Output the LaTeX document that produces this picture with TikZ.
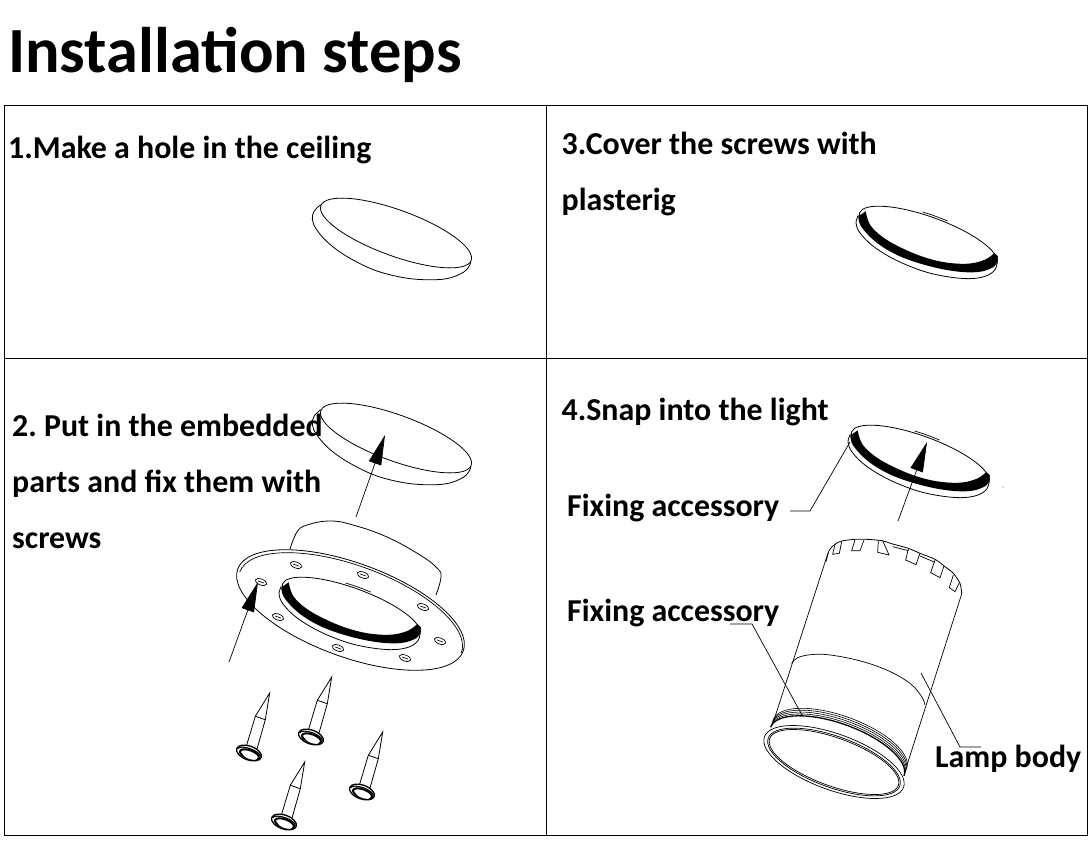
\documentclass[tikz,border=0pt]{standalone}
\usepackage{fontspec}
\setmainfont{Carlito}
\usetikzlibrary{arrows.meta}

\begin{document}
\begin{tikzpicture}[x=1pt,y=-1pt,
  inkline/.style={line width=0.8pt, black},
  panelline/.style={line width=0.8pt, black},
  leader/.style={line width=0.7pt, black},
  callout/.style={line width=0.7pt, black, -{Triangle[length=30pt,width=13pt]}},
  titletext/.style={anchor=north west, inner sep=0pt, font=\fontsize{64.4}{64}\selectfont\bfseries},
  steptext/.style={anchor=north west, inner sep=0pt, align=left, font=\fontsize{31.9}{56}\selectfont\bfseries},
  capdisc/.pic={
    \begin{scope}[scale=0.3333,shift={(-288,-130)}]
      \draw[inkline,fill=white] plot[smooth,tension=.6] coordinates {(62,45) (42,65) (37,90) (50,120) (85,160) (140,200) (220,240) (300,262) (370,270) (440,267) (490,248) (510,225) (512,215)};
    \end{scope}
    \draw[inkline,fill=white,rotate=-20] (0,0) ellipse [x radius=80pt,y radius=23pt];
  },
  ringdisc/.pic={
    \begin{scope}[scale=0.3333,shift={(-249,-130)}]
      \draw[inkline,fill=white] plot[smooth,tension=.6] coordinates {(40,62) (33,85) (45,115) (85,155) (150,195) (230,228) (300,245) (370,252) (420,245) (450,225) (458,192)};
    \end{scope}
    \draw[inkline,fill=white,rotate=-20] (0,0) ellipse [x radius=73pt,y radius=21pt];
    \begin{scope}[scale=0.3333,shift={(-249,-130)}]
      \fill[black] plot[smooth,tension=.6] coordinates {(40,65) (48,95) (90,140) (150,178) (220,205) (300,225) (370,233) (420,228) (450,210) (459,185)}
        -- plot[smooth,tension=.6] coordinates {(448,175) (420,195) (370,207) (300,203) (230,185) (160,155) (110,125) (75,90) (62,50)} -- cycle;
    \end{scope}
    \draw[leader,rotate=-20] (101:73pt and 23pt) arc [start angle=101,end angle=80,x radius=73pt,y radius=23pt];
  },
  screwpin/.pic={
    \draw[inkline] (-2.7,-6.7) -- (6.3,-36.7) -- (20.7,-60) -- (16.3,-33.3) -- (8,-4);
    \draw[inkline] (6.3,-36.7) -- (16.3,-33.3);
    \draw[line width=1.3pt,fill=white,rotate=-20] (0,0) ellipse [x radius=13pt,y radius=7pt];
    \draw[line width=1.1pt,rotate=-20] (-12pt,0pt) arc [start angle=180,end angle=0,x radius=12pt,y radius=4.5pt];
    \draw[line width=2pt,fill=white,shift={(0.5,1.5)},rotate=-20] (0,0) ellipse [x radius=10pt,y radius=4.2pt];
    \fill[white,shift={(1,3)},rotate=-20] (0,0) ellipse [x radius=7.5pt,y radius=3pt];
  }
]
\useasboundingbox (0,0) rectangle (1091,841);
% frame
\draw[panelline] (4,105) rectangle (1087,835);
\draw[panelline] (546.5,105) -- (546.5,835);
\draw[panelline] (4,358) -- (1087,358);

% step 1
\pic at (396,233) {capdisc};

% step 3
\pic at (928,238) {ringdisc};

% step 2
\pic at (396,438) {capdisc};
\draw[inkline] plot[smooth,tension=.7] coordinates {(290,549) (297,532) (307,525) (330,521) (353,525) (387,537) (420,555) (437,568) (441,577) (436,595)};
\draw[inkline,fill=white,rotate around={-20:(350.5,610)}] (350.5,610) ellipse [x radius=120pt,y radius=47pt];
\begin{scope}[shift={(350.5,612.5)},rotate=-20]
  \draw[leader] (-118pt,0pt) arc [start angle=180,end angle=0,x radius=118pt,y radius=47pt];
\end{scope}
\pic at (351,609) {ringdisc};
\foreach \hx/\hy in {296/565,363/575,423/607,440/641,405/658,338/648,278/617,261/582} {
  \begin{scope}[shift={(\hx,\hy)},rotate=-20]
    \draw[leader] (0,0) ellipse [x radius=6pt,y radius=3pt];
    \draw[leader] (-3pt,0pt) -- (3pt,0pt);
  \end{scope}
}
\foreach \hx/\hy in {249/753,311/737,362/792,284/822} {
  \pic at (\hx,\hy) {screwpin};
}
\coordinate (captail) at (356,517);
\coordinate (captip) at (385,435);
\coordinate (flangetail) at (229,662);
\coordinate (flangetip) at (258,582);
\draw[callout] (captail) -- (captip);
\draw[callout] (flangetail) -- (flangetip);

% step 4
\pic at (920,457) {ringdisc};
\fill (1003,487) circle (0.5pt);
\coordinate (ringtail) at (898,521);
\coordinate (ringtip) at (927,442);
\draw[callout] (ringtail) -- (ringtip);

% lamp crown
\begin{scope}[shift={(740,420)},scale=0.3333]
  \draw[inkline] plot[smooth,tension=.5] coordinates {(258,425) (268,390) (285,373) (305,363) (345,358) (380,358) (425,362) (458,372) (505,385) (540,400) (585,418) (615,440) (640,460) (660,490) (665,520)};
  \draw[leader] (285,373) -- (278,403) -- (298,400) -- (305,365);
  \draw[leader] (345,360) -- (335,392) -- (360,392) -- (372,360);
  \draw[leader] (415,362) -- (413,397) -- (447,405) -- (428,362);
  \draw[leader] (505,387) -- (497,420) -- (528,434) -- (540,400);
  \draw[leader] (585,420) -- (572,458) -- (600,473) -- (612,438);
  \draw[leader] (640,465) -- (628,503) -- (645,515) -- (658,488);
  \draw[leader] (458,380) -- (505,392);
  \draw[leader] (540,408) -- (585,427);
\end{scope}
% lamp body
\draw[leader] (828,553) -- (773,723);
\draw[leader] (962,593) -- (907,765);
\begin{scope}[shift={(730,610)},scale=0.3333]
  \draw[leader] plot[smooth,tension=.6] coordinates {(185,160) (210,140) (280,133) (380,150) (470,180) (540,220) (575,260) (585,285)};
\end{scope}
% threads
\foreach \s/\w in {10/1.3pt,12/0.6pt,14/0.6pt,16/0.6pt,18/0.6pt} {
  \begin{scope}[shift={(834+.33*\s,761-.94*\s)},rotate=-20]
    \draw[line width=\w] (-71pt,0pt) arc [start angle=180,end angle=0,x radius=71pt,y radius=28pt];
  \end{scope}
}
% front rings
\begin{scope}[shift={(834,762)},rotate=-20]
  \draw[leader] (0,0) ellipse [x radius=74pt,y radius=28pt];
  \draw[leader] (0,0) ellipse [x radius=70pt,y radius=25.5pt];
  \draw[leader] (0,0) ellipse [x radius=68.5pt,y radius=24pt];
\end{scope}

% leaders
\coordinate (fixonestart) at (790,511);
\coordinate (fixonebend) at (810,511);
\coordinate (fixoneend) at (850,442);
\draw[leader] (fixonestart) -- (fixonebend) -- (fixoneend);
\coordinate (fixtwostart) at (730,624);
\coordinate (fixtwobend) at (752,624);
\coordinate (fixtwoend) at (802,715);
\draw[leader] (fixtwostart) -- (fixtwobend) -- (fixtwoend);
\coordinate (bodystart) at (921,673);
\coordinate (bodybend) at (960,747);
\coordinate (bodyend) at (981,747);
\draw[leader] (bodystart) -- (bodybend) -- (bodyend);

% texts
\node[titletext] (title) at (8,27) {Installation steps};
\node[steptext] (stepone) at (8,136) {1.Make a hole in the ceiling};
\node[steptext] (stepthree) at (561.5,132) {3.Cover the screws with\\plasterig};
\node[steptext] (steptwo) at (12,414) {2.\ Put in the embedded\\parts and fix them with\\screws};
\node[steptext] (stepfour) at (561.5,398) {4.Snap into the light};
\node[steptext] (fixone) at (567,494) {Fixing accessory};
\node[steptext] (fixtwo) at (567,599) {Fixing accessory};
\node[steptext] (lampbody) at (935,745) {Lamp body};
\end{tikzpicture}
\end{document}
